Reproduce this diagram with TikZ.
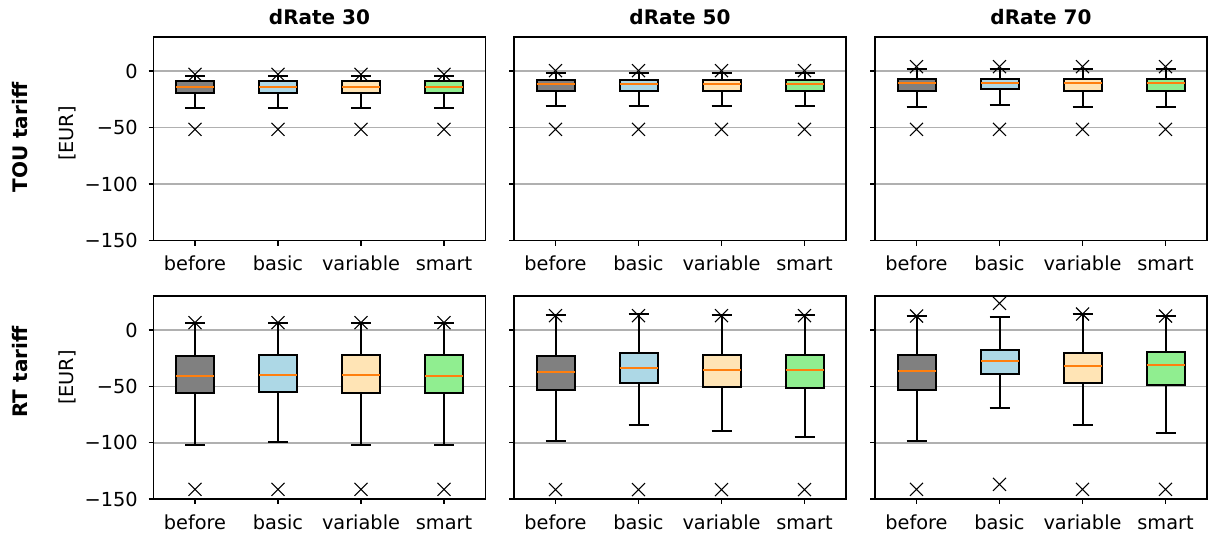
\documentclass[tikz,border=0pt]{standalone}
\usepackage{fontspec}
\setmainfont{DejaVu Sans}
\definecolor{gridgray}{HTML}{B0B0B0}
\definecolor{medorange}{HTML}{FF7F0E}
\definecolor{cA}{HTML}{808080}
\definecolor{cB}{HTML}{ADD8E6}
\definecolor{cC}{HTML}{FFE4B5}
\definecolor{cD}{HTML}{90EE90}
\newcommand{\bxp}[7]{%
  \draw[whisk] (#1,#2) -- (#1,#6);
  \draw[whisk] (#1-10,#6) -- (#1+10,#6);
  \draw[whisk] (#1,#3) -- (#1,#5);
  \draw[whisk] (#1-10,#5) -- (#1+10,#5);
  \filldraw[boxst, fill=#7] (#1-19,#2) rectangle (#1+19,#3);
  \draw[med] (#1-19,#4) -- (#1+19,#4);}
\newcommand{\fl}[2]{%
  \draw[flier] (#1-6.5,#2-6.5) -- (#1+6.5,#2+6.5) (#1-6.5,#2+6.5) -- (#1+6.5,#2-6.5);}
\begin{document}
\begin{tikzpicture}[x=0.75pt,y=-0.75pt,
  font=\fontsize{14.5}{17}\selectfont,
  gridl/.style={draw=gridgray, line width=1.2pt},
  whisk/.style={draw=black, line width=1.5pt},
  boxst/.style={draw=black, line width=1.5pt},
  med/.style={draw=medorange, line width=1.5pt},
  flier/.style={draw=black, line width=0.8pt},
  spine/.style={draw=black, line width=0.9pt},
  tick/.style={draw=black, line width=0.9pt},
  ticklab/.style={inner sep=0pt},
  ttl/.style={font=\fontsize{15}{18}\selectfont\bfseries}]
\useasboundingbox (0,0) rectangle (1208,533);
% panels
\foreach \L in {153.5,514,875}{
  % top row
  \foreach \y in {71,127.5,184}{\draw[gridl] (\L,\y) -- (\L+332,\y);}
  \foreach \y in {71,127.5,184,240.5}{\draw[tick] (\L-5,\y) -- (\L,\y);}
  \foreach \k in {0,1,2,3}{\draw[tick] (\L+41.5+83*\k,240.5) -- (\L+41.5+83*\k,245.5);}
  % bottom row
  \foreach \y in {330,386.3,442.7}{\draw[gridl] (\L,\y) -- (\L+332,\y);}
  \foreach \y in {330,386.3,442.7,499}{\draw[tick] (\L-5,\y) -- (\L,\y);}
  \foreach \k in {0,1,2,3}{\draw[tick] (\L+41.5+83*\k,499) -- (\L+41.5+83*\k,504);}
  % x tick labels
  \foreach \k/\t in {0/before,1/basic,2/variable,3/smart}{
    \node[ticklab, anchor=base] (xl\L\k a) at (\L+41.5+83*\k,270) {\t};
    \node[ticklab, anchor=base] (xl\L\k b) at (\L+41.5+83*\k,529) {\t};}
}
% titles
\node[ttl] (t1) at (319.5,17) {dRate 30};
\node[ttl] (t2) at (680,17) {dRate 50};
\node[ttl] (t3) at (1041,17) {dRate 70};
% y tick labels
\foreach \y/\t in {71/0,127.5/−50,184/−100,240.5/−150}{
  \node[ticklab, anchor=east] (yt\y) at (138,\y) {\t};}
\foreach \y/\t in {330/0,386.3/−50,442.7/−100,499/−150}{
  \node[ticklab, anchor=east] (yb\y) at (138,\y) {\t};}
% row labels
\node[ttl, rotate=90] (r1) at (20.5,137.5) {TOU tariff};
\node[rotate=90] (u1) at (67,133.5) {[EUR]};
\node[ttl, rotate=90] (r2) at (20.5,372) {RT tariff};
\node[rotate=90] (u2) at (67,377.5) {[EUR]};
% ---------- top row boxes ----------
% panel 1
\foreach \x/\c in {195/cA,278/cB,361/cC,444/cD}{
  \bxp{\x}{81}{92.7}{87.3}{108.3}{75.7}{\c}
  \fl{\x}{74.3}\fl{\x}{129.3}}
% panel 2
\foreach \x/\c in {555.5/cA,638.5/cB,721.5/cC,804.5/cD}{
  \bxp{\x}{80}{91}{84}{105.7}{73.3}{\c}
  \fl{\x}{70.7}\fl{\x}{129.3}}
% panel 3
\bxp{916.5}{79}{91}{83.3}{106.7}{68.7}{cA}
\bxp{999.5}{79.3}{89.3}{82.7}{104.7}{68.7}{cB}
\bxp{1082.5}{79}{91}{83.3}{106.7}{68.7}{cC}
\bxp{1165.5}{79}{91}{83.3}{106.7}{68.7}{cD}
\foreach \x in {916.5,999.5,1082.5,1165.5}{\fl{\x}{66.7}\fl{\x}{129.3}}
% ---------- bottom row boxes ----------
% panel 1
\bxp{195}{355.7}{392.7}{376}{445.3}{323.3}{cA}
\bxp{278}{355.3}{391.7}{374.7}{442.3}{323.3}{cB}
\bxp{361}{355.3}{392.7}{375.3}{444.7}{323.3}{cC}
\bxp{444}{355.3}{392.7}{375.7}{445.3}{323.3}{cD}
\foreach \x in {195,278,361,444}{\fl{\x}{322.7}\fl{\x}{489.3}}
% panel 2
\bxp{555.5}{356.3}{390}{372}{440.7}{315.3}{cA}
\bxp{638.5}{353.3}{383}{367.7}{424.7}{314.3}{cB}
\bxp{721.5}{355.3}{386.7}{370}{431.3}{315.3}{cC}
\bxp{804.5}{354.7}{388}{370}{436.7}{315.3}{cD}
\foreach \x in {555.5,638.5,721.5,804.5}{\fl{\x}{315.7}\fl{\x}{489.6}}
% panel 3
\bxp{916.5}{355.3}{390}{371}{440.7}{315.7}{cA}
\bxp{999.5}{350.3}{373.7}{360.7}{408}{317.3}{cB}
\bxp{1082.5}{352.7}{382.7}{366}{425}{314}{cC}
\bxp{1165.5}{351.7}{385.3}{365}{433.3}{315.7}{cD}
\fl{916.5}{316}\fl{916.5}{489.3}
\fl{999.5}{303.3}\fl{999.5}{484.3}
\fl{1082.5}{314}\fl{1082.5}{489.3}
\fl{1165.5}{316}\fl{1165.5}{489.3}
% spines
\foreach \L in {153.5,514,875}{
  \draw[spine] (\L,37) rectangle (\L+332,240.5);
  \draw[spine] (\L,296) rectangle (\L+332,499);}
\end{tikzpicture}
\end{document}
